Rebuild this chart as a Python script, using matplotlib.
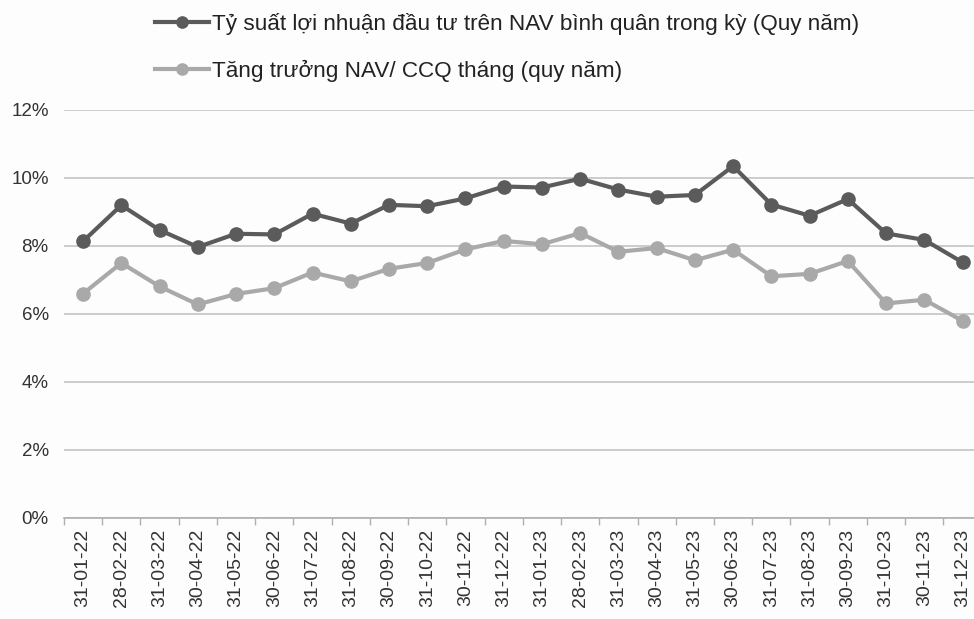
import matplotlib
matplotlib.use("Agg")
import matplotlib.pyplot as plt
from matplotlib.ticker import FixedLocator, NullFormatter

dates = ["31-01-22", "28-02-22", "31-03-22", "30-04-22", "31-05-22", "30-06-22",
         "31-07-22", "31-08-22", "30-09-22", "31-10-22", "30-11-22", "31-12-22",
         "31-01-23", "28-02-23", "31-03-23", "30-04-23", "31-05-23", "30-06-23",
         "31-07-23", "31-08-23", "30-09-23", "31-10-23", "30-11-23", "31-12-23"]

nav_return = [8.14, 9.20, 8.47, 7.97, 8.36, 8.34, 8.95, 8.66, 9.21, 9.17, 9.40, 9.75,
              9.72, 9.98, 9.66, 9.45, 9.50, 10.35, 9.22, 8.89, 9.38, 8.37, 8.18, 7.52]
nav_growth = [6.60, 7.50, 6.81, 6.28, 6.59, 6.76, 7.22, 6.96, 7.33, 7.50, 7.90, 8.15,
              8.05, 8.38, 7.83, 7.94, 7.58, 7.89, 7.11, 7.18, 7.56, 6.31, 6.42, 5.80]

label1 = "Tỷ suất lợi nhuận đầu tư trên NAV bình quân trong kỳ (Quy năm)"
label2 = "Tăng trưởng NAV/ CCQ tháng (quy năm)"
yticks = [0, 2, 4, 6, 8, 10, 12]
ytick_labels = ["0%", "2%", "4%", "6%", "8%", "10%", "12%"]

plt.rcParams['font.family'] = ['Liberation Sans', 'DejaVu Sans']

W, H = 974, 619
fig = plt.figure(figsize=(W / 100, H / 100), dpi=100, facecolor="#fdfdfd")
ax = fig.add_axes([64 / W, 1 - 518 / H, (W - 64) / W, 408 / H])
ax.set_facecolor("#fdfdfd")

x = list(range(len(dates)))
dark = "#5b5b5b"
light = "#a9a9a9"
ax.plot(x, nav_return, color=dark, lw=3, marker="o", ms=9.5, label=label1, zorder=3)
ax.plot(x, nav_growth, color=light, lw=3, marker="o", ms=9.5, label=label2, zorder=3)

ax.set_xlim(-0.5, 23.3)
ax.set_ylim(0, 12)
ax.set_yticks(yticks)
ax.set_yticklabels(ytick_labels, fontsize=13.5, color="#333333")
ax.tick_params(axis="y", length=0, pad=11)
ax.grid(axis="y", color="#c4c4c4", lw=1.2)
ax.set_axisbelow(True)

ax.xaxis.set_major_locator(FixedLocator([i - 0.5 for i in x] + [23.5]))
ax.xaxis.set_major_formatter(NullFormatter())
ax.xaxis.set_minor_locator(FixedLocator(x))
ax.set_xticklabels(dates, minor=True, rotation=90, fontsize=14, color="#333333")
ax.tick_params(axis="x", which="major", length=5, color="#b0b0b0", width=1)
ax.tick_params(axis="x", which="minor", length=0, pad=8)

for s in ["top", "right", "left"]:
    ax.spines[s].set_visible(False)
ax.spines["bottom"].set_color("#b0b0b0")
ax.spines["bottom"].set_linewidth(1.2)

fig.legend(loc="upper left", bbox_to_anchor=(135 / W, 1 + 7 / H), frameon=False,
           fontsize=16.2, handlelength=2.4, handletextpad=0.1, labelspacing=1.08,
           markerscale=0.85, labelcolor="#222222")

fig.savefig("out.png", dpi=100, facecolor=fig.get_facecolor())
